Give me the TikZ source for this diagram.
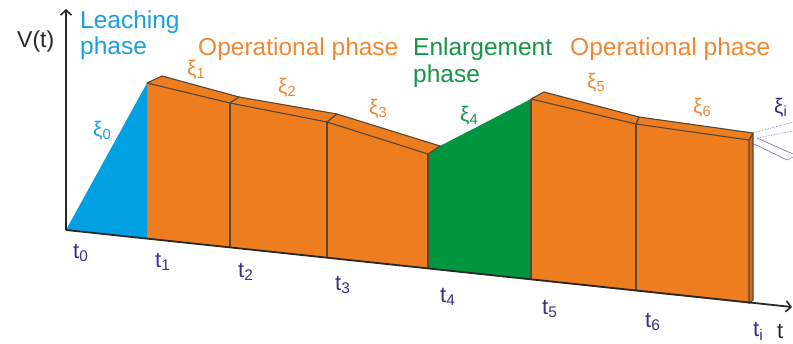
\documentclass[tikz,border=0pt]{standalone}
\usepackage{fontspec}
\setmainfont{Liberation Sans}
\usetikzlibrary{arrows.meta}
\definecolor{fillblue}{RGB}{0,160,227}
\definecolor{fillorange}{RGB}{237,125,30}
\definecolor{sideorange}{RGB}{215,108,22}
\definecolor{fillgreen}{RGB}{0,150,64}
\definecolor{txtblue}{RGB}{25,160,225}
\definecolor{txtorange}{RGB}{240,135,50}
\definecolor{txtgreen}{RGB}{20,150,70}
\definecolor{indigo}{RGB}{55,45,140}
\definecolor{edgecol}{RGB}{85,70,55}
\definecolor{axiscol}{RGB}{40,40,40}
\begin{document}
\begin{tikzpicture}[x=1pt,y=-1pt,
  edge/.style={draw=edgecol,line width=1.1pt,line join=round},
  axisline/.style={draw=axiscol,line width=1.8pt,-{Straight Barb[length=5pt,width=11pt,line width=1.6pt]}},
  phaselbl/.style={anchor=base west,inner sep=0pt,font=\fontsize{24.5}{28}\selectfont},
  tlbl/.style={anchor=base west,inner sep=0pt,text=indigo,font=\fontsize{22}{24}\selectfont},
  xilbl/.style={anchor=base west,inner sep=0pt,font=\fontsize{21}{24}\selectfont},
  ghost/.style={draw=indigo!70,line width=0.6pt}]
\useasboundingbox (0,0) rectangle (793,343);
\clip (0,0) rectangle (793,343);

% key coordinates
\coordinate (O) at (66,230);
\coordinate (Vtip) at (66,9);
\coordinate (Ttip) at (792,307);
% front top
\coordinate (f1) at (147,83);
\coordinate (f2) at (230,103);
\coordinate (f3) at (327,122);
\coordinate (f4) at (428,154);
\coordinate (f5) at (531,99);
\coordinate (f6) at (636,124);
\coordinate (f7) at (749,140);
% back top
\coordinate (b1) at (162,76);
\coordinate (b2) at (239,97);
\coordinate (b3) at (337,114);
\coordinate (b4) at (440,146);
\coordinate (b5) at (544,92);
\coordinate (b6) at (639,117);
\coordinate (b7) at (753,133);
% bottom on axis
\coordinate (g1) at (147,238.7);
\coordinate (g2) at (230,247.6);
\coordinate (g3) at (327,258);
\coordinate (g4) at (428,268.9);
\coordinate (g5) at (531,280);
\coordinate (g6) at (636,291.3);
\coordinate (g7) at (749,303.4);
\coordinate (h7) at (753,300);

% leaching triangle
\fill[fillblue] (O) -- (f1) -- (g1) -- cycle;
% operational front faces
\fill[fillorange] (f1) -- (f2) -- (g2) -- (g1) -- cycle;
\fill[fillorange] (f2) -- (f3) -- (g3) -- (g2) -- cycle;
\fill[fillorange] (f3) -- (f4) -- (g4) -- (g3) -- cycle;
% enlargement
\fill[fillgreen] (f4) -- (b4) -- (f5) -- (g5) -- (g4) -- cycle;
\fill[fillorange] (f5) -- (f6) -- (g6) -- (g5) -- cycle;
\fill[fillorange] (f6) -- (f7) -- (g7) -- (g6) -- cycle;
% end side face
\filldraw[fill=sideorange,edge] (f7) -- (b7) -- (h7) -- (g7) -- cycle;
% top faces
\filldraw[fill=fillorange,edge] (f1) -- (b1) -- (b2) -- (f2) -- cycle;
\filldraw[fill=fillorange,edge] (f2) -- (b2) -- (b3) -- (f3) -- cycle;
\filldraw[fill=fillorange,edge] (f3) -- (b3) -- (b4) -- (f4) -- cycle;
\filldraw[fill=fillorange,edge] (f5) -- (b5) -- (b6) -- (f6) -- cycle;
\filldraw[fill=fillorange,edge] (f6) -- (b6) -- (b7) -- (f7) -- cycle;
% vertical dividers
\draw[edge] (f2) -- (g2);
\draw[edge] (f3) -- (g3);
\draw[edge] (f4) -- (g4);
\draw[edge] (f5) -- (g5);
\draw[edge] (f6) -- (g6);

% ghost of next slab
\coordinate (k1) at (793,122);
\coordinate (k2) at (757,138);
\coordinate (k3) at (793,131);
\coordinate (k4) at (793,154);
\coordinate (k5) at (752,143);
\coordinate (k6) at (787,160);
\coordinate (k7) at (793,157);
\draw[ghost,densely dotted] (b7) -- (k1);
\draw[ghost,densely dotted] (k2) -- (k3);
\draw[ghost] (k2) -- (k4);
\draw[ghost] (k5) -- (k6) -- (k7);

% axes
\draw[axisline] (O) -- (Vtip);
\draw[axisline] (O) -- (Ttip);

% labels
\node[anchor=base west,inner sep=0pt,text=axiscol,font=\fontsize{23}{26}\selectfont] (vt) at (17,47) {V(t)};
\node[phaselbl,text=txtblue] (leach1) at (80,28) {Leaching};
\node[phaselbl,text=txtblue] (leach2) at (80,54) {phase};
\node[phaselbl,text=txtorange] (oper1) at (198,55) {Operational phase};
\node[phaselbl,text=txtgreen] (enl1) at (413,55) {Enlargement};
\node[phaselbl,text=txtgreen] (enl2) at (413,82) {phase};
\node[phaselbl,text=txtorange] (oper2) at (570,55) {Operational phase};

\node[xilbl,text=txtblue] (xi0) at (93,136) {ξ\textsubscript{0}};
\node[xilbl,text=txtorange] (xi1) at (187,75) {ξ\textsubscript{1}};
\node[xilbl,text=txtorange] (xi2) at (278,93) {ξ\textsubscript{2}};
\node[xilbl,text=txtorange] (xi3) at (369,114) {ξ\textsubscript{3}};
\node[xilbl,text=txtgreen] (xi4) at (460,121) {ξ\textsubscript{4}};
\node[xilbl,text=txtorange] (xi5) at (587,88) {ξ\textsubscript{5}};
\node[xilbl,text=txtorange] (xi6) at (693,113) {ξ\textsubscript{6}};
\node[xilbl,text=indigo] (xii) at (774,113) {ξ\textsubscript{i}};

\node[tlbl] (t0) at (73,258) {t\textsubscript{0}};
\node[tlbl] (t1) at (155,267) {t\textsubscript{1}};
\node[tlbl] (t2) at (238,277) {t\textsubscript{2}};
\node[tlbl] (t3) at (335,290) {t\textsubscript{3}};
\node[tlbl] (t4) at (440,302) {t\textsubscript{4}};
\node[tlbl] (t5) at (542,314) {t\textsubscript{5}};
\node[tlbl] (t6) at (645,327) {t\textsubscript{6}};
\node[tlbl] (ti) at (753,336) {t\textsubscript{i}};
\node[anchor=base west,inner sep=0pt,text=axiscol,font=\fontsize{22}{24}\selectfont] (tax) at (777,338) {t};
\end{tikzpicture}
\end{document}
